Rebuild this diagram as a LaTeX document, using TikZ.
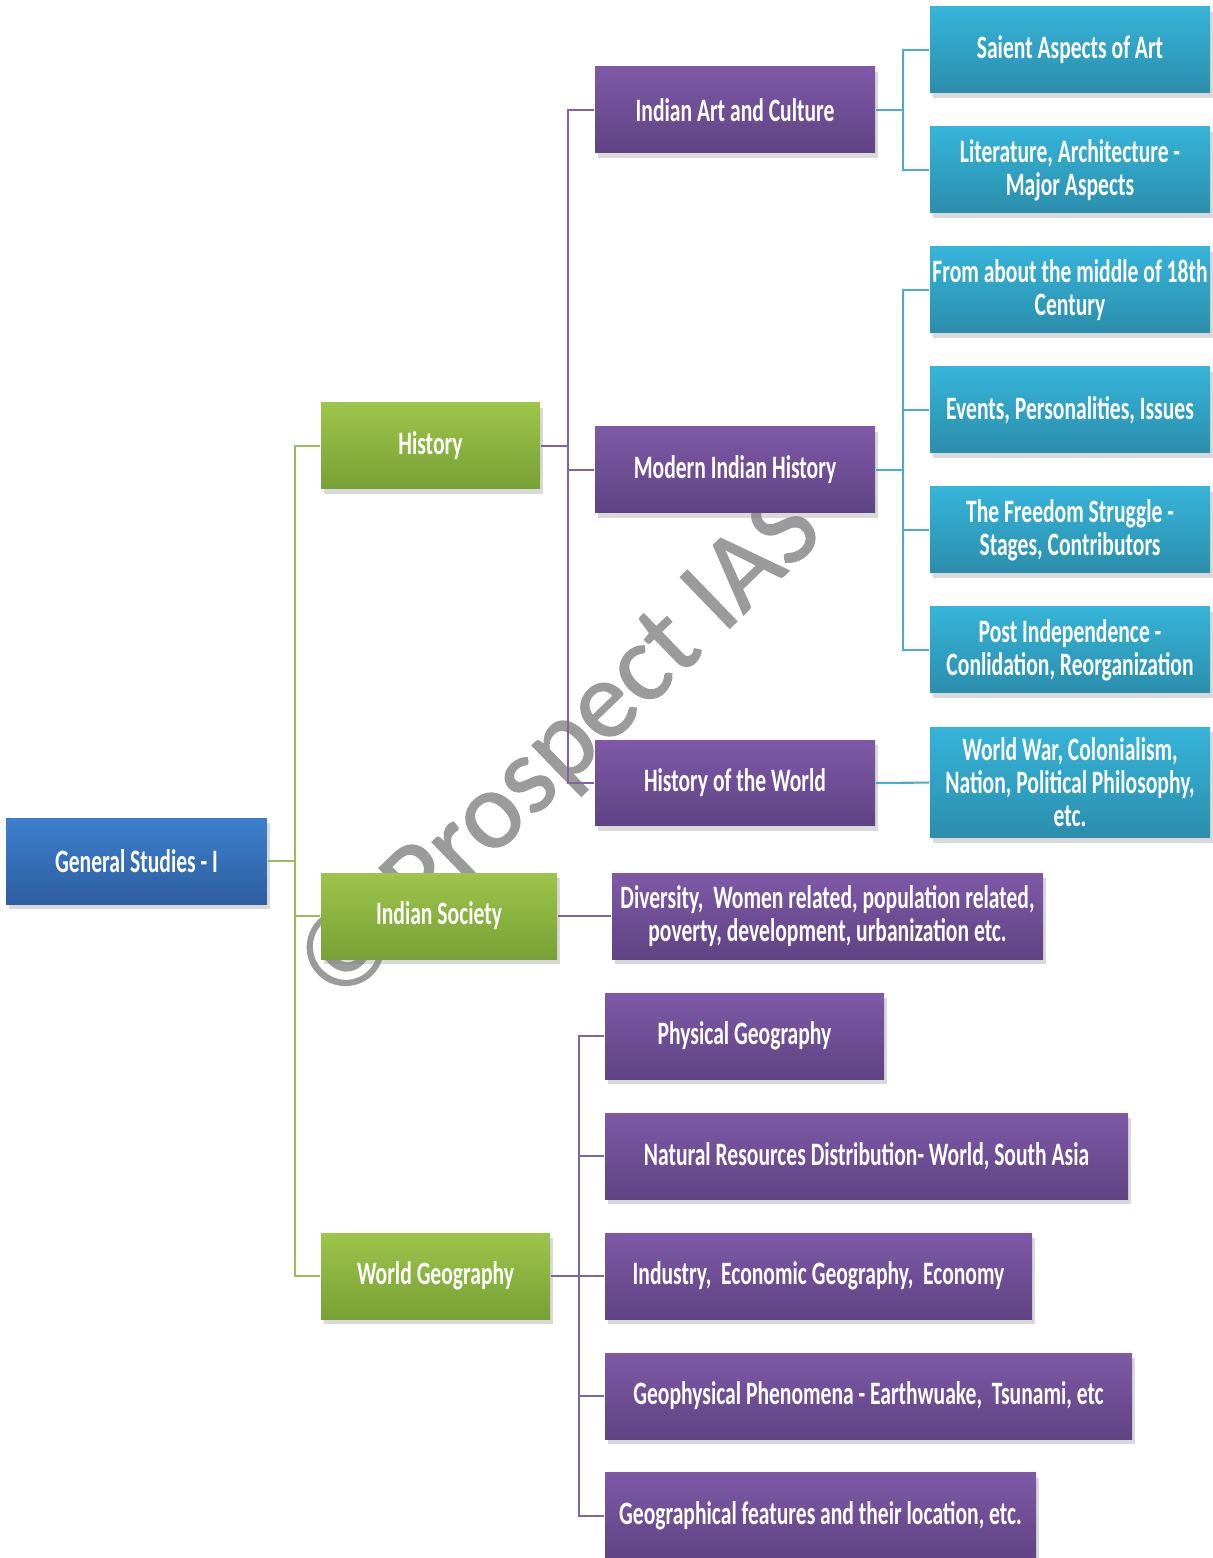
\documentclass[tikz,border=0pt]{standalone}
\usepackage{fontspec}
\setmainfont{Carlito}[FakeStretch=0.66]
\newfontfamily\markfont{Carlito}[FakeBold=1.2]
\usetikzlibrary{shadows}
\definecolor{blueT}{HTML}{3D7FCF}
\definecolor{blueB}{HTML}{2D5E9F}
\definecolor{greenT}{HTML}{9DC54A}
\definecolor{greenB}{HTML}{77A036}
\definecolor{purpleT}{HTML}{7F59A7}
\definecolor{purpleB}{HTML}{5F4383}
\definecolor{cyanT}{HTML}{36B4D9}
\definecolor{cyanB}{HTML}{2B8EAC}
\definecolor{gline}{HTML}{9BBB59}
\definecolor{pline}{HTML}{8064A2}
\definecolor{cline}{HTML}{4BACC6}
\definecolor{markgray}{HTML}{9B9B9B}

\begin{document}
\begin{tikzpicture}[scale=0.1,
  box/.style={rectangle, minimum height=0.86cm, text=white, align=center,
    font=\bfseries\fontsize{9.3}{9.4}\selectfont,
    drop shadow={shadow xshift=0.3mm, shadow yshift=-0.5mm, opacity=0.3}},
  bluebox/.style={box, top color=blueT, bottom color=blueB},
  greenbox/.style={box, top color=greenT, bottom color=greenB},
  purplebox/.style={box, top color=purpleT, bottom color=purpleB},
  cyanbox/.style={box, top color=cyanT, bottom color=cyanB, minimum width=2.8cm},
  glink/.style={draw=gline, line width=0.6pt},
  plink/.style={draw=pline, line width=0.6pt},
  clink/.style={draw=cline, line width=0.6pt}]
\tikzstyle{every node}+=[inner sep=0pt]
\useasboundingbox (0,0) rectangle (121.2,-155.8);
\node [rotate=44, text=markgray, font=\markfont\fontsize{31.5}{31.5}\selectfont] (mark) at (56.2,-75.0) {© Prospect IAS};
\node [bluebox, minimum width=2.61cm] (gs) at (13.65,-86.1) {General Studies - I};
\node [greenbox, minimum width=2.19cm] (hist) at (43.05,-44.6) {History};
\node [greenbox, minimum width=2.36cm] (soc) at (43.9,-91.6) {Indian Society};
\node [greenbox, minimum width=2.29cm] (geo) at (43.55,-127.6) {World Geography};
\node [purplebox, minimum width=2.8cm] (art) at (73.5,-11) {Indian Art and Culture};
\node [purplebox, minimum width=2.8cm] (mod) at (73.5,-47) {Modern Indian History};
\node [purplebox, minimum width=2.8cm] (world) at (73.5,-78.3) {History of the World};
\node [cyanbox] (sal) at (107,-5) {Saient Aspects of Art};
\node [cyanbox] (lit) at (107,-17) {Literature, Architecture -\\Major Aspects};
\node [cyanbox] (mid) at (107,-29) {From about the middle of 18th\\Century};
\node [cyanbox] (evt) at (107,-41) {Events, Personalities, Issues};
\node [cyanbox] (free) at (107,-53) {The Freedom Struggle -\\Stages, Contributors};
\node [cyanbox] (post) at (107,-65) {Post Independence -\\Conlidation, Reorganization};
\node [cyanbox, minimum height=1.11cm] (war) at (107,-78.25) {World War, Colonialism,\\Nation, Political Philosophy,\\etc.};
\node [purplebox, minimum width=4.31cm] (div) at (82.75,-91.6) {Diversity,\ \ Women related, population related,\\poverty, development, urbanization etc.};
\node [purplebox, minimum width=2.79cm] (phys) at (74.45,-103.6) {Physical Geography};
\node [purplebox, minimum width=5.23cm] (res) at (86.65,-115.6) {Natural Resources Distribution- World, South Asia};
\node [purplebox, minimum width=4.27cm] (ind) at (81.85,-127.6) {Industry,\ \ Economic Geography,\ \ Economy};
\node [purplebox, minimum width=5.27cm] (quake) at (86.85,-139.6) {Geophysical Phenomena - Earthwuake,\ \ Tsunami, etc};
\node [purplebox, minimum width=4.31cm] (feat) at (82.05,-151.55) {Geographical features and their location, etc.};
\draw [glink] (gs.east) -- ++(2.7,0) |- (hist.west);
\draw [glink] (gs.east) -- ++(2.7,0) |- (soc.west);
\draw [glink] (gs.east) -- ++(2.7,0) |- (geo.west);
\draw [plink] (hist.east) -- ++(2.7,0) |- (art.west);
\draw [plink] (hist.east) -- ++(2.7,0) |- (mod.west);
\draw [plink] (hist.east) -- ++(2.7,0) |- (world.west);
\draw [plink] (soc.east) -- (div.west);
\draw [plink] (geo.east) -- ++(2.8,0) |- (phys.west);
\draw [plink] (geo.east) -- ++(2.8,0) |- (res.west);
\draw [plink] (geo.east) -- (ind.west);
\draw [plink] (geo.east) -- ++(2.8,0) |- (quake.west);
\draw [plink] (geo.east) -- ++(2.8,0) |- (feat.west);
\draw [clink] (art.east) -- ++(2.7,0) |- (sal.west);
\draw [clink] (art.east) -- ++(2.7,0) |- (lit.west);
\draw [clink] (mod.east) -- ++(2.7,0) |- (mid.west);
\draw [clink] (mod.east) -- ++(2.7,0) |- (evt.west);
\draw [clink] (mod.east) -- ++(2.7,0) |- (free.west);
\draw [clink] (mod.east) -- ++(2.7,0) |- (post.west);
\draw [clink] (world.east) -- (war.west);
\end{tikzpicture}
\end{document}
